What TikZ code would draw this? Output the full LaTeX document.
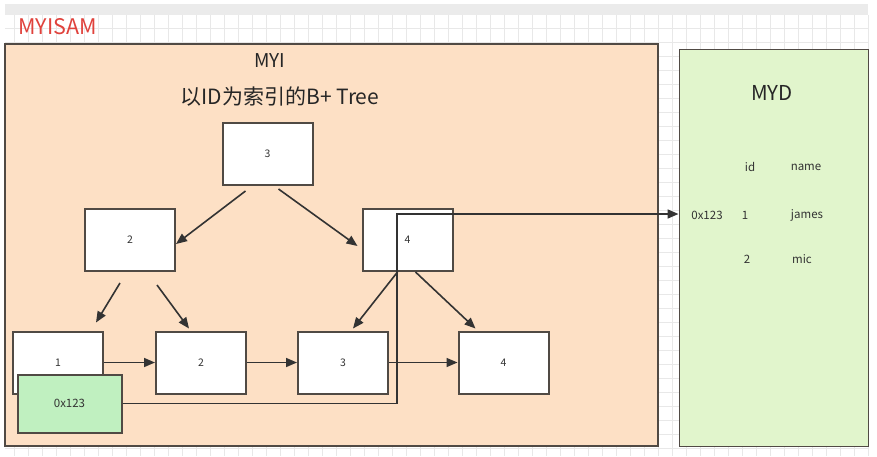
\documentclass[tikz,border=0pt]{standalone}
\usepackage{fontspec}
\setmainfont{Noto Sans CJK SC}
\usepackage{tikz}
\usetikzlibrary{positioning, arrows.meta}
\definecolor{idx}{RGB}{253,224,197}
\definecolor{dat}{RGB}{225,245,204}
\definecolor{addr}{RGB}{192,240,192}
\definecolor{rim}{RGB}{80,74,68}
\definecolor{red}{RGB}{224,66,60}

\begin{document}
\begin{tikzpicture}[x=1pt, y=-1pt,
        page/.style={draw=rim, line width=1.8pt},
        key/.style={draw=rim, line width=2pt, fill=white,
                    minimum width=90pt, minimum height=62pt, inner sep=0pt,
                    font=\fontsize{10.5}{12}\selectfont, text=black!80},
        link/.style={draw=black!80, line width=1.6pt,
                     -{Triangle[length=11pt,width=9pt]}},
        cell/.style={font=\fontsize{11.5}{13}\selectfont, text=black!80}]
    \useasboundingbox (0,0) rectangle (877,456);
    \fill[white] (0,0) rectangle (877,456);
    \draw[black!9, step=14pt] (5,15) grid (868,456);
    \fill[black!8] (5,4) rectangle (868,15);
    \node [anchor=west, text=red, font=\fontsize{21.5}{23}\selectfont] (engine) at (15,27) {MYISAM};

    \draw[page, fill=idx] (5,44) rectangle (658,446);
    \node [page, fill=dat,
           anchor=north west,
           minimum width=189pt, minimum height=397pt] (myd) at (678.5,48.5) {};
    \node [font=\fontsize{19}{21}\selectfont, text=black!85] (myi) at (270,61) {MYI};
    \node [font=\fontsize{21}{23}\selectfont, text=black!85] (tree) at (280,97) {以ID为索引的B+ Tree};
    \node [font=\fontsize{20.5}{22}\selectfont, text=black!85] (mydtitle) at (772,93) {MYD};

    \node [cell] (hid) at (750,167) {id};
    \node [cell] (hname) at (806,167) {name};
    \node [cell] (raddr) at (707,215) {0x123};
    \node [cell] (rid1) at (745,215) {1};
    \node [cell] (rname1) at (807,215) {james};
    \node [cell] (rid2) at (747,259) {2};
    \node [cell] (rname2) at (802,259) {mic};

    \node [key] (t3) at (267.5,154) {3};
    \node [key] (n2) at (130,240) {2};
    \node [key] (n4) at (407.5,240) {4};
    \node [key] (l1) at (58,362.5) {1};
    \node [key] (l2) at (201,362.5) {2};
    \node [key] (l3) at (343,362.5) {3};
    \node [key] (l4) at (503.5,362.5) {4};

    \draw[link] ([xshift=-22pt,yshift=-5pt]t3.south) -- ([yshift=-4pt]n2.east);
    \draw[link] ([xshift=11pt,yshift=-3pt]t3.south) -- ([xshift=-4pt,yshift=-6pt]n4.west);
    \draw[link] ([xshift=-10pt,yshift=-11pt]n2.south) -- ([xshift=38pt,yshift=8pt]l1.north);
    \draw[link] ([xshift=27pt,yshift=-13pt]n2.south) -- ([xshift=-12pt,yshift=2pt]l2.north);
    \draw[link] ([xshift=-10pt]n4.south) -- ([xshift=10pt,yshift=2pt]l3.north);
    \draw[link] ([xshift=8pt]n4.south) -- ([xshift=-28pt,yshift=2pt]l4.north);
    \draw[link] (l1.east) -- (l2.west);
    \draw[link] (l2.east) -- (l3.west);
    \draw[link] (l3.east) -- (l4.west);

    \node [key, fill=addr, font=\fontsize{11.5}{13}\selectfont,
           minimum width=104pt, minimum height=58pt] (ptr) at (69.5,403.5) {0x123};
    \coordinate (turn) at (397,214);
    \draw[link] (ptr.east) -| (turn) -- (turn -| myd.west);
\end{tikzpicture}
\end{document}
